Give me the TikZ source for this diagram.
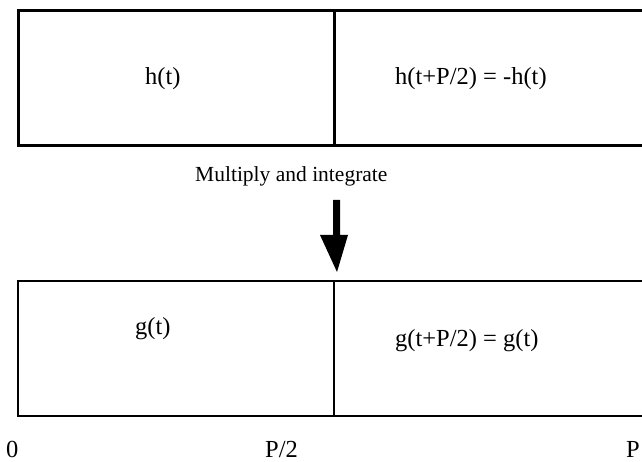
\documentclass[tikz,border=0pt]{standalone}
\usepackage{fontspec}
\setmainfont{Liberation Serif}
\begin{document}
\begin{tikzpicture}[x=1pt,y=1pt,
  lbl/.style={anchor=base west,inner sep=0pt,font=\fontsize{24.5}{28}\selectfont},
  mid/.style={anchor=base west,inner sep=0pt,font=\fontsize{21.5}{26}\selectfont}]
\useasboundingbox (0,0) rectangle (642,462);
% top box
\draw[line width=3pt] (18,451) rectangle (646,316);
\draw[line width=3pt] (334,451) -- (334,316);
% bottom box
\draw[line width=2.5pt] (18,181) rectangle (646,46);
\draw[line width=2.5pt] (334,181) -- (334,46);
% texts
\node[lbl] (h) at (145,377) {h(t)};
\node[lbl] (hh) at (395,377) {h(t+P/2) = -h(t)};
\node[mid] (mi) at (195,280) {Multiply and integrate};
\node[lbl] (g) at (135,127) {g(t)};
\node[lbl] (gg) at (395,115) {g(t+P/2) = g(t)};
\node[lbl] (z) at (6,4) {0};
\node[lbl] (ph) at (265,4) {P/2};
\node[lbl] (p) at (626,4) {P};
% arrow
\fill (333,262) -- (340,262) -- (340,227) -- (348,227) -- (337,190) -- (320,227) -- (333,227) -- cycle;
\end{tikzpicture}
\end{document}
